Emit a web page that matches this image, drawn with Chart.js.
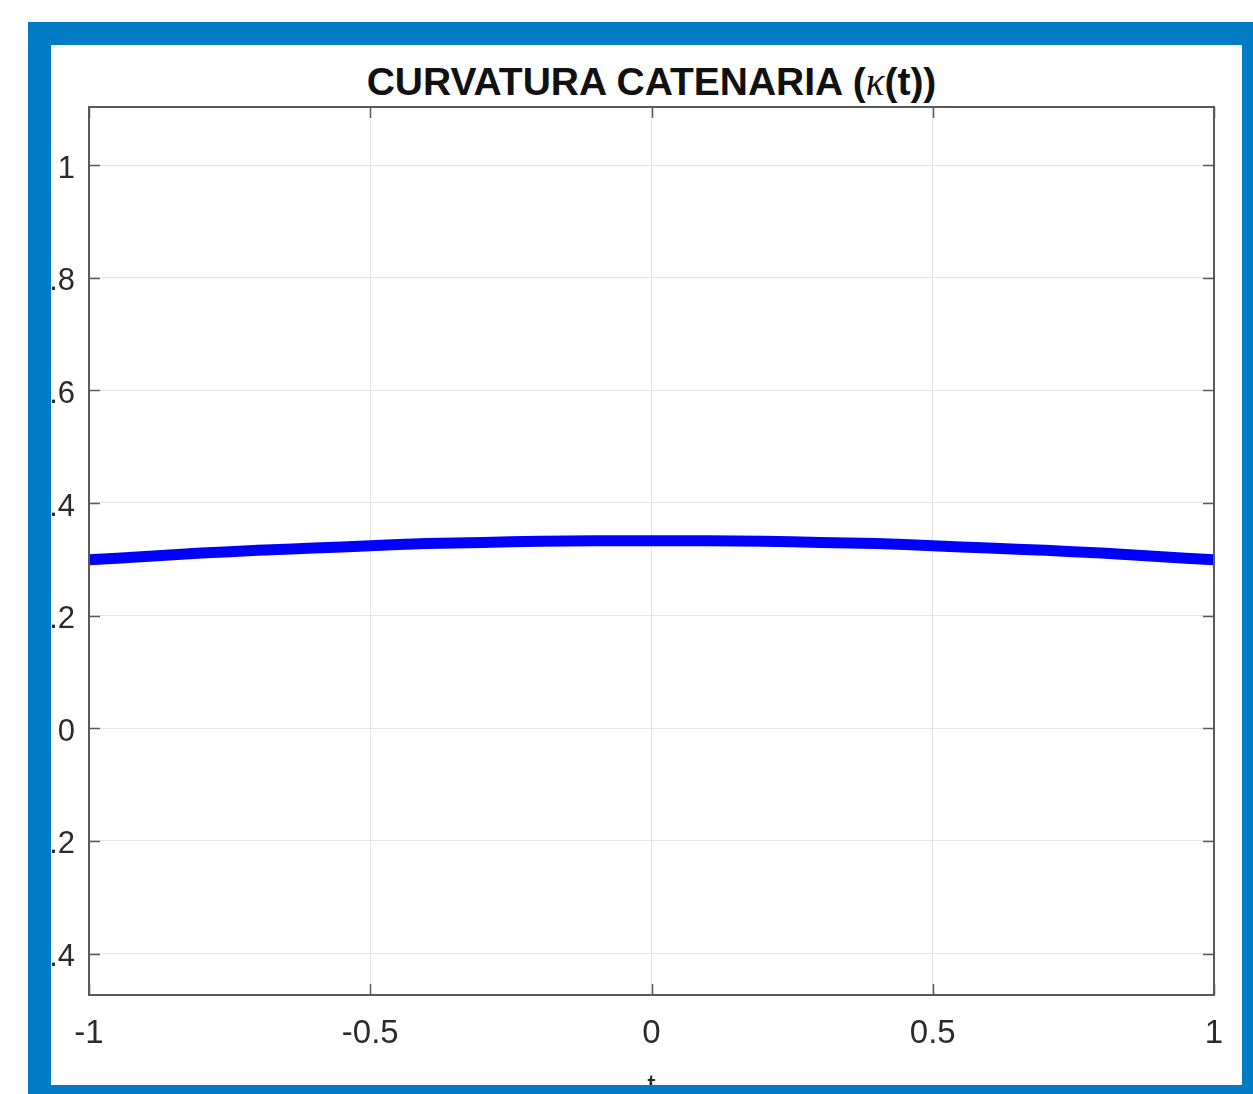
<!DOCTYPE html>
<html>
<head>
<meta charset="utf-8">
<title>Curvatura catenaria</title>
<script src="https://cdn.jsdelivr.net/npm/chart.js@4.4.1/dist/chart.umd.min.js"></script>
<style>
  html, body { margin: 0; padding: 0; background: #fff; overflow: hidden; }
  body { width: 1253px; height: 1094px; position: relative; }
  #frame { position: absolute; left: 28px; top: 22px; right: 0; bottom: 0; background: #007cc7; }
  #inner { position: absolute; left: 51px; top: 45px; width: 1191px; height: 1040px; background: #fff; overflow: hidden; }
  #stage { position: absolute; left: -51px; top: -45px; width: 1253px; height: 1105px; }
  #stage canvas { position: absolute; left: 0; top: 0; }
  #title {
    position: absolute; left: 89px; width: 1125px; top: 62px;
    text-align: center; font: bold 39px "Liberation Sans", Arial, sans-serif;
    line-height: 39px; color: #111; white-space: nowrap;
  }
  #title .k { font-weight: normal; font-style: italic; font-family: "Liberation Serif", serif; }
</style>
</head>
<body>
<div id="frame"></div>
<div id="inner">
  <div id="stage">
    <div id="title">CURVATURA CATENARIA (<span class="k">κ</span>(t))</div>
    <canvas id="chart" width="1253" height="1105"></canvas>
  </div>
</div>
<script>
// ---------- Data ----------
const tValues = [-1, -0.9, -0.8, -0.7, -0.6, -0.5, -0.4, -0.3, -0.2, -0.1, 0,
                 0.1, 0.2, 0.3, 0.4, 0.5, 0.6, 0.7, 0.8, 0.9, 1];
const kappaValues = [0.299, 0.305, 0.311, 0.316, 0.320, 0.324, 0.328, 0.330, 0.332, 0.333, 0.333,
                     0.333, 0.332, 0.330, 0.328, 0.324, 0.320, 0.316, 0.311, 0.305, 0.299];
const xTicks = [-1, -0.5, 0, 0.5, 1];
const yTicks = [-0.4, -0.2, 0, 0.2, 0.4, 0.6, 0.8, 1];

// ---------- Styles ----------
const AXIS_COLOR = "#5a5a5a";
const GRID_COLOR = "#e4e4e4";
const TEXT_COLOR = "#2b2b2b";
const FONT = "'Liberation Sans', Arial, sans-serif";

const points = tValues.map((t, i) => ({ x: t, y: kappaValues[i] }));

// box around the axes with inward tick marks
const boxPlugin = {
  id: "box",
  afterDraw(chart) {
    const { ctx, chartArea: a, scales } = chart;
    ctx.save();
    ctx.strokeStyle = AXIS_COLOR;
    ctx.lineWidth = 2;
    ctx.strokeRect(a.left, a.top, a.right - a.left, a.bottom - a.top);
    ctx.beginPath();
    yTicks.forEach(v => {
      const y = Math.round(scales.y.getPixelForValue(v)) + 0.5;
      ctx.moveTo(a.left, y); ctx.lineTo(a.left + 11, y);
      ctx.moveTo(a.right, y); ctx.lineTo(a.right - 11, y);
    });
    xTicks.forEach(v => {
      const x = Math.round(scales.x.getPixelForValue(v)) + 0.5;
      ctx.moveTo(x, a.bottom); ctx.lineTo(x, a.bottom - 11);
      ctx.moveTo(x, a.top); ctx.lineTo(x, a.top + 11);
    });
    ctx.lineWidth = 1.5;
    ctx.stroke();
    ctx.restore();
  }
};

new Chart(document.getElementById("chart"), {
  type: "line",
  data: {
    datasets: [{
      data: points,
      borderColor: "#0000ff",
      borderWidth: 11,
      pointRadius: 0,
      tension: 0.3,
      fill: false
    }]
  },
  options: {
    responsive: false,
    animation: false,
    layout: { padding: { left: 0, top: 107, right: 39, bottom: 0 } },
    plugins: {
      legend: { display: false },
      title: { display: false },
      tooltip: { enabled: false }
    },
    scales: {
      x: {
        type: "linear",
        min: -1,
        max: 1,
        afterFit: s => { s.height = 110; },
        afterBuildTicks: s => { s.ticks = xTicks.map(v => ({ value: v })); },
        grid: { color: GRID_COLOR, lineWidth: 1, drawTicks: false },
        border: { display: false },
        ticks: {
          padding: 19,
          color: TEXT_COLOR,
          font: { family: FONT, size: 33 },
          callback: v => String(v)
        },
        title: {
          display: true,
          text: "t",
          color: TEXT_COLOR,
          padding: 0,
          font: { family: FONT, size: 30 }
        }
      },
      y: {
        type: "linear",
        min: -0.4735,
        max: 1.103,
        afterFit: s => { s.width = 89; },
        afterBuildTicks: s => { s.ticks = yTicks.map(v => ({ value: v })); },
        grid: { color: GRID_COLOR, lineWidth: 1, drawTicks: false },
        border: { display: false },
        ticks: {
          padding: 14,
          labelOffset: 4,
          color: TEXT_COLOR,
          font: { family: FONT, size: 31 },
          callback: v => String(+v.toFixed(1))
        }
      }
    }
  },
  plugins: [boxPlugin]
});
</script>
</body>
</html>
